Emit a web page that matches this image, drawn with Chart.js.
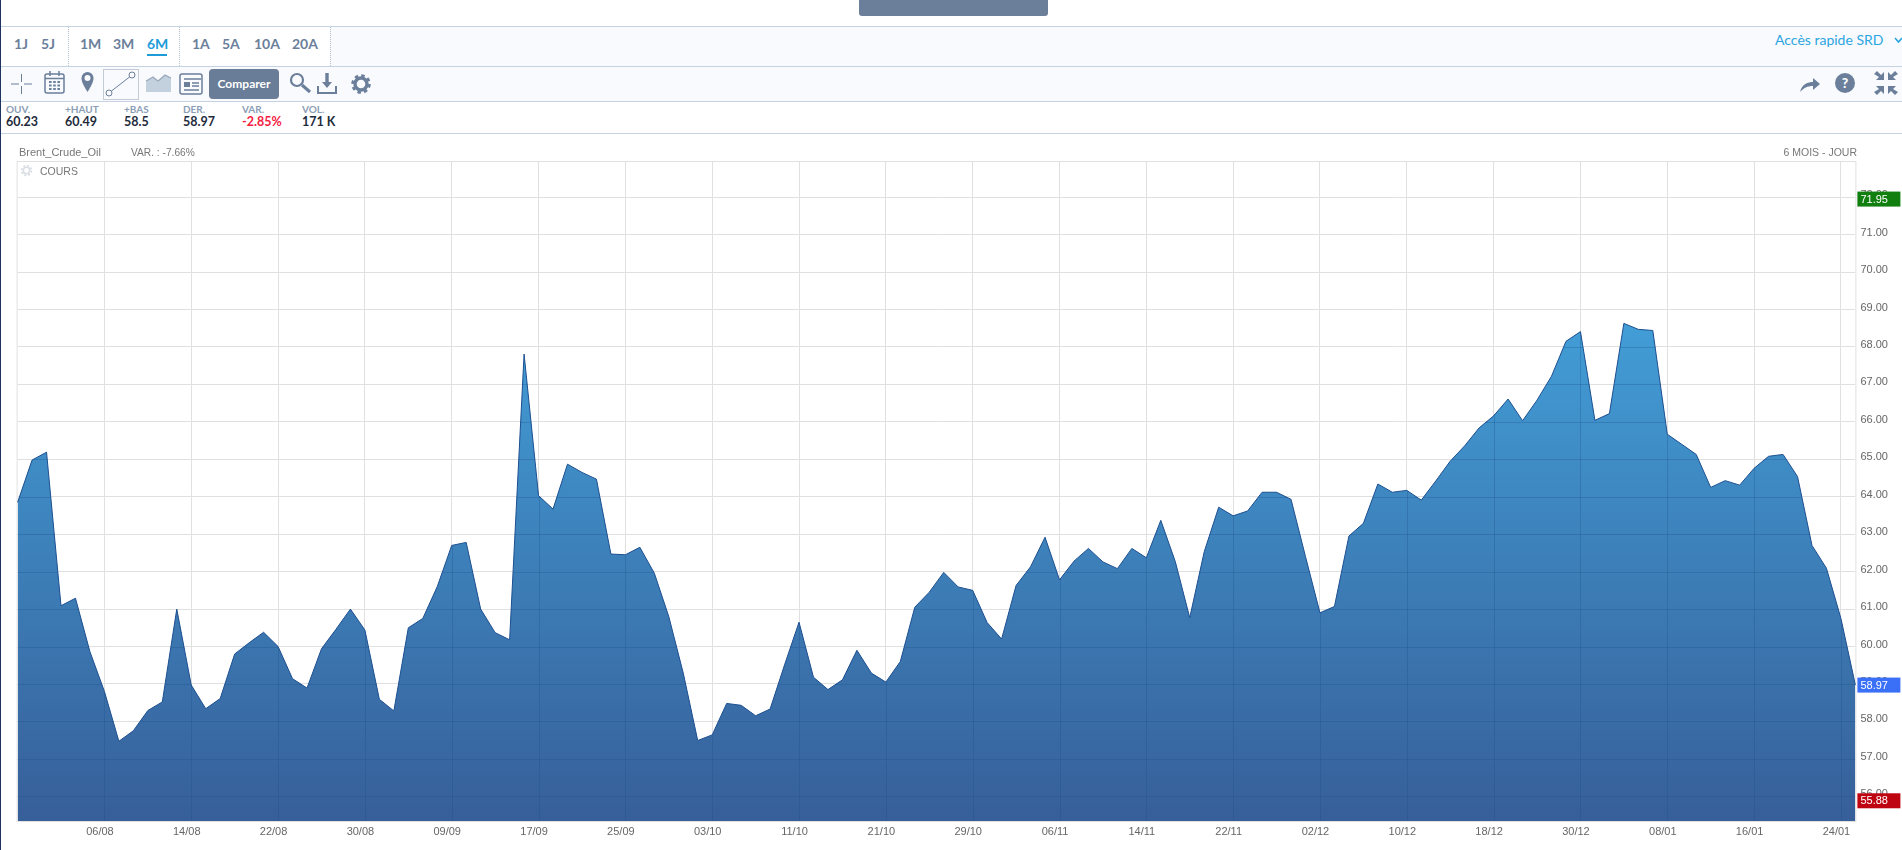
<!DOCTYPE html>
<html lang="fr">
<head>
<meta charset="utf-8">
<title>Brent_Crude_Oil</title>
<script src="https://cdn.jsdelivr.net/npm/chart.js@4/dist/chart.umd.min.js"></script>
<style>
html, body { margin: 0; padding: 0; width: 1902px; height: 850px; overflow: hidden; background: #fff; font-family: Lato, "Open Sans", sans-serif; }
.abs { position: absolute; white-space: nowrap; }
#edge { left: 0; top: 0; width: 1px; height: 850px; background: #1f3560; }
#topBtn { left: 859px; top: 0; width: 189px; height: 16px; background: #6b7f9b; border-radius: 0 0 3px 3px; }
#row1 { left: 1px; top: 26px; width: 1901px; height: 39px; background: #f9fafe; border-top: 1px solid #c6d2df; border-bottom: 1px solid #c6d2df; }
#periods { left: 1px; top: 27px; width: 329px; height: 39px; background: #fff; }
.sep { top: 27px; width: 0; height: 39px; border-left: 1px dotted #b4c0ce; }
.period { top: 35px; font-size: 14px; line-height: 18px; font-weight: 700; color: #6b7f9b; }
.period.on { color: #1d9bd8; }
#underline { left: 147px; top: 54px; width: 20px; height: 2px; background: #1d9bd8; }
#srd { left: 1775px; top: 31px; font-size: 14px; line-height: 18px; color: #2ba5e0; }
#row2 { left: 1px; top: 67px; width: 1901px; height: 34px; background: #f9fafe; border-bottom: 1px solid #c6d2df; }
#compare { left: 209px; top: 69px; width: 70px; height: 30px; line-height: 30px; text-align: center; background: #697d99; border-radius: 4px; color: #fff; font-size: 12px; font-weight: 700; }
#lineBtn { left: 103px; top: 69px; width: 34px; height: 29px; border: 1px solid #c3ccd6; }
svg { position: absolute; }
#row3 { left: 1px; top: 133px; width: 1901px; height: 0; border-top: 1px solid #c6d2df; }
.statLabel { top: 103px; font-size: 10px; line-height: 12px; font-weight: 700; color: #8c9eb5; }
.statValue { top: 115px; font-size: 12.5px; line-height: 14px; font-weight: 700; color: #1e2b3c; }
.info { top: 146px; font-family: "Liberation Sans", sans-serif; font-size: 10.5px; line-height: 13px; color: #777; }
#chartBox { position: absolute; left: 0; top: 134px; width: 1902px; height: 716px; }
</style>
</head>
<body>
<div class="abs" id="edge"></div>
<div class="abs" id="topBtn"></div>

<div class="abs" id="row1"></div>
<div class="abs" id="periods"></div>
<div class="abs sep" style="left:68px"></div>
<div class="abs sep" style="left:179px"></div>
<div class="abs sep" style="left:330px"></div>
<div class="abs period" style="left:14px">1J</div>
<div class="abs period" style="left:41px">5J</div>
<div class="abs period" style="left:80px">1M</div>
<div class="abs period" style="left:113px">3M</div>
<div class="abs period on" style="left:147px">6M</div>
<div class="abs" id="underline"></div>
<div class="abs period" style="left:192px">1A</div>
<div class="abs period" style="left:222px">5A</div>
<div class="abs period" style="left:254px">10A</div>
<div class="abs period" style="left:292px">20A</div>
<div class="abs" id="srd">Accès rapide SRD</div>
<svg style="left:1894px;top:36px" width="8" height="8"><path d="M1 2 L4.5 6 L8 2" fill="none" stroke="#2ba5e0" stroke-width="1.6"/></svg>

<div class="abs" id="row2"></div>
<div class="abs" id="lineBtn"></div>
<div class="abs" id="compare">Comparer</div>
<svg style="left:0;top:67px" width="380" height="34" fill="none" stroke="#6b7f9b">
  <!-- réticule -->
  <path d="M11 17 H19 M24 17 H32 M21.5 7 V15 M21.5 19 V27" stroke-width="1"/>
  <!-- calendrier -->
  <rect x="45" y="7" width="19" height="19" rx="2" stroke-width="1.5"/>
  <path d="M45 11.5 H64 M50 4 V9 M59 4 V9" stroke-width="1.5"/>
  <path d="M49 15 H60 M49 18.5 H60 M49 22 H60" stroke-width="2" stroke-dasharray="2.6 1.6"/>
  <!-- repère -->
  <path d="M87.5 25 C83 18 81.5 14 81.5 11 A6 6 0 0 1 93.5 11 C93.5 14 92 18 87.5 25 Z" fill="#6b7f9b" stroke="none"/>
  <circle cx="87.5" cy="11" r="3" fill="#f9fafe" stroke="none"/>
  <!-- ligne -->
  <circle cx="109" cy="26" r="3" stroke-width="1"/>
  <circle cx="132" cy="8" r="3" stroke-width="1"/>
  <path d="M111.5 24 L129.5 10" stroke-width="1"/>
  <!-- aire -->
  <path d="M146 25 V14 L153 10 L158 14 L165 8 L171 11 V25 Z" fill="#c3d0dd" stroke="none"/>
  <path d="M146 14 L153 10 L158 14 L165 8 L171 11" stroke="#6b7f9b" stroke-width="1.2" opacity=".6"/>
  <!-- actualités -->
  <rect x="180" y="7" width="22" height="20" rx="2" stroke-width="1.5"/>
  <path d="M184 12 H201 M192 16 H199 M192 19 H199 M184 23 H199" stroke-width="1.5"/>
  <rect x="184" y="15" width="6" height="5" fill="#6b7f9b" stroke="none"/>
  <!-- loupe -->
  <circle cx="297" cy="13" r="6" stroke-width="2.2"/>
  <path d="M302 18 L310 25" stroke-width="3"/>
  <!-- téléchargement -->
  <path d="M318 19 V26 H336 V19" stroke-width="2"/>
  <path d="M327 6 V16" stroke-width="3.4"/>
  <path d="M322 15 H332 L327 21 Z" fill="#6b7f9b" stroke="none"/>
  <!-- réglages -->
  <circle cx="361" cy="17" r="6" stroke-width="3.4"/>
  <circle cx="361" cy="17" r="8.5" stroke-width="2.6" stroke-dasharray="3.5 3.17"/>
</svg>
<svg style="left:1780px;top:67px" width="122" height="34" fill="#6b7f9b">
  <path d="M20 25 C22 17 28 15 33 15 V11 L40 17 L33 23 V19 C27 19 24 21 20 25 Z"/>
  <circle cx="65" cy="16" r="10"/>
  <text x="65" y="21" text-anchor="middle" font-family="Lato" font-size="14" font-weight="900" fill="#f9fafe">?</text>
  <path d="M94 7 L97 4 L101 8 L104 5 V13 H96 L99 10 Z"/>
  <path d="M118 7 L115 4 L111 8 L108 5 V13 H116 L113 10 Z"/>
  <path d="M94 25 L97 28 L101 24 L104 27 V19 H96 L99 22 Z"/>
  <path d="M118 25 L115 28 L111 24 L108 27 V19 H116 L113 22 Z"/>
</svg>

<div class="abs statLabel" style="left:6px">OUV.</div><div class="abs statValue" style="left:6px">60.23</div>
<div class="abs statLabel" style="left:65px">+HAUT</div><div class="abs statValue" style="left:65px">60.49</div>
<div class="abs statLabel" style="left:124px">+BAS</div><div class="abs statValue" style="left:124px">58.5</div>
<div class="abs statLabel" style="left:183px">DER.</div><div class="abs statValue" style="left:183px">58.97</div>
<div class="abs statLabel" style="left:242px">VAR.</div><div class="abs statValue" style="left:242px;color:#f5213f">-2.85%</div>
<div class="abs statLabel" style="left:302px">VOL.</div><div class="abs statValue" style="left:302px">171 K</div>
<div class="abs" id="row3"></div>

<div id="chartBox"><canvas id="coursChart" width="1902" height="716"></canvas></div>

<div class="abs info" style="left:19px;font-size:11px">Brent_Crude_Oil</div>
<div class="abs info" style="left:131px;font-size:10.2px">VAR. : -7.66%</div>
<div class="abs info" style="right:45px">6 MOIS - JOUR</div>
<svg style="left:20px;top:164px" width="13" height="13" fill="none" stroke="#d9dee4">
  <circle cx="6.5" cy="6.5" r="3.2" stroke-width="1.6"/>
  <circle cx="6.5" cy="6.5" r="5" stroke-width="1.6" stroke-dasharray="2 1.93"/>
</svg>
<div class="abs info" style="left:40px;top:165px">COURS</div>

<script>
// Dates de cotation (jours ouvrés)
const dates = [
    '29/07', '30/07', '31/07', '01/08', '02/08', '05/08', '06/08', '07/08', '08/08', '09/08', '12/08', '13/08', '14/08',
    '15/08', '16/08', '19/08', '20/08', '21/08', '22/08', '23/08', '26/08', '27/08', '28/08', '29/08', '30/08',
    '02/09', '03/09', '04/09', '05/09', '06/09', '09/09', '10/09', '11/09', '12/09', '13/09', '16/09', '17/09',
    '18/09', '19/09', '20/09', '23/09', '24/09', '25/09', '26/09', '27/09', '30/09', '01/10', '02/10', '03/10',
    '04/10', '07/10', '08/10', '09/10', '10/10', '11/10', '14/10', '15/10', '16/10', '17/10', '18/10', '21/10',
    '22/10', '23/10', '24/10', '25/10', '28/10', '29/10', '30/10', '31/10', '01/11', '04/11', '05/11', '06/11',
    '07/11', '08/11', '11/11', '12/11', '13/11', '14/11', '15/11', '18/11', '19/11', '20/11', '21/11', '22/11',
    '25/11', '26/11', '27/11', '28/11', '29/11', '02/12', '03/12', '04/12', '05/12', '06/12', '09/12', '10/12',
    '11/12', '12/12', '13/12', '16/12', '17/12', '18/12', '19/12', '20/12', '23/12', '24/12', '27/12', '30/12',
    '31/12', '02/01', '03/01', '06/01', '07/01', '08/01', '09/01', '10/01', '13/01', '14/01', '15/01', '16/01',
    '17/01', '20/01', '21/01', '22/01', '23/01', '24/01', '27/01'
];

// Cours de clôture
const cours = [
    63.85, 64.98, 65.19, 61.09, 61.29, 59.86, 58.80, 57.47, 57.75, 58.29, 58.52, 61.00, 58.97,
    58.34, 58.61, 59.80, 60.10, 60.38, 60.00, 59.14, 58.89, 59.94, 60.46, 61.00, 60.44,
    58.59, 58.28, 60.50, 60.75, 61.60, 62.70, 62.78, 61.00, 60.37, 60.18, 67.81, 64.03,
    63.67, 64.87, 64.65, 64.47, 62.47, 62.45, 62.65, 61.96, 60.80, 59.29, 57.49, 57.64,
    58.48, 58.43, 58.15, 58.33, 59.51, 60.65, 59.18, 58.85, 59.11, 59.90, 59.29, 59.05,
    59.60, 61.05, 61.45, 61.98, 61.59, 61.50, 60.64, 60.20, 61.63, 62.13, 62.92, 61.78,
    62.28, 62.62, 62.26, 62.08, 62.62, 62.37, 63.37, 62.27, 60.77, 62.53, 63.72, 63.49,
    63.62, 64.12, 64.12, 63.93, 62.40, 60.90, 61.07, 62.95, 63.29, 64.34, 64.12, 64.17,
    63.91, 64.42, 64.95, 65.36, 65.84, 66.16, 66.61, 66.03, 66.58, 67.22, 68.15, 68.41,
    66.04, 66.22, 68.63, 68.47, 68.44, 65.67, 65.40, 65.13, 64.25, 64.43, 64.31, 64.76,
    65.08, 65.13, 64.54, 62.70, 62.09, 60.75, 58.97
];

// Graduations des axes
const xTickLabels = [
    '06/08', '14/08', '22/08', '30/08', '09/09', '17/09', '25/09', '03/10', '11/10', '21/10', '29/10',
    '06/11', '14/11', '22/11', '02/12', '10/12', '18/12', '30/12', '08/01', '16/01', '24/01'
];
const yTicks = [56, 57, 58, 59, 60, 61, 62, 63, 64, 65, 66, 67, 68, 69, 70, 71, 72];
const yMin = 55.34;
const yMax = 72.94;

// Étiquettes de prix à droite de l'axe
const badgeValues = [71.95, 58.97, 55.88];
const badgeColors = ['#107f10', '#3a6ff7', '#bf0411'];

const gridColor = '#e0e0e0';

// Cadre de la zone de tracé
const framePlugin = {
    id: 'frame',
    beforeDatasetsDraw(chart) {
        const { ctx, chartArea: a } = chart;
        ctx.save();
        ctx.strokeStyle = gridColor;
        ctx.lineWidth = 1;
        ctx.strokeRect(a.left - 0.5, a.top - 0.5, a.right - a.left + 1, a.bottom - a.top + 1);
        ctx.restore();
    }
};

// Grille plus foncée à l'intérieur de l'aire
const areaGridPlugin = {
    id: 'areaGrid',
    afterDatasetsDraw(chart) {
        const { ctx, chartArea: a, scales } = chart;
        const points = chart.getDatasetMeta(0).data;
        ctx.save();
        ctx.beginPath();
        points.forEach((p, i) => i ? ctx.lineTo(p.x, p.y) : ctx.moveTo(p.x, p.y));
        ctx.lineTo(a.right, a.bottom);
        ctx.lineTo(a.left, a.bottom);
        ctx.closePath();
        ctx.clip();
        ctx.strokeStyle = 'rgba(28, 78, 135, 0.3)';
        ctx.lineWidth = 1;
        ctx.beginPath();
        scales.x.ticks.forEach(t => {
            const x = Math.round(scales.x.getPixelForValue(t.value)) + 0.5;
            ctx.moveTo(x, a.top);
            ctx.lineTo(x, a.bottom);
        });
        yTicks.forEach(v => {
            const y = Math.round(scales.y.getPixelForValue(v)) + 0.5;
            ctx.moveTo(a.left, y);
            ctx.lineTo(a.right, y);
        });
        ctx.stroke();
        ctx.restore();
    }
};

// Étiquettes max / dernier / min
const badgePlugin = {
    id: 'badges',
    afterDraw(chart) {
        const { ctx, chartArea: a, scales } = chart;
        ctx.save();
        ctx.font = '11px "Liberation Sans"';
        ctx.textAlign = 'left';
        ctx.textBaseline = 'middle';
        badgeValues.forEach((v, i) => {
            const y = scales.y.getPixelForValue(v);
            ctx.fillStyle = badgeColors[i];
            ctx.fillRect(a.right + 2, y - 7.5, 43, 15);
            ctx.fillStyle = '#fff';
            ctx.fillText(v.toFixed(2), a.right + 5, y + 0.5);
        });
        ctx.restore();
    }
};

function areaGradient(context) {
    const { chart } = context;
    if (!chart.chartArea) return '#3c7fb6';
    const g = chart.ctx.createLinearGradient(0, chart.scales.y.getPixelForValue(68.63), 0, chart.chartArea.bottom);
    g.addColorStop(0, '#429dd6');
    g.addColorStop(1, '#375f99');
    return g;
}

new Chart(document.getElementById('coursChart'), {
    type: 'line',
    data: {
        labels: dates,
        datasets: [{
            label: 'COURS',
            data: cours,
            borderColor: '#1c4f90',
            borderWidth: 1,
            backgroundColor: areaGradient,
            fill: 'start',
            tension: 0,
            pointRadius: 0
        }]
    },
    options: {
        responsive: false,
        animation: false,
        layout: { padding: { left: 17.6, top: 28, right: 0, bottom: 0 } },
        plugins: { legend: { display: false }, tooltip: { enabled: false } },
        scales: {
            x: {
                type: 'category',
                border: { display: false },
                grid: { color: gridColor, drawTicks: false },
                afterBuildTicks(scale) {
                    scale.ticks = xTickLabels.map(d => ({ value: dates.indexOf(d) }));
                },
                afterFit(scale) { scale.height = 29; },
                ticks: {
                    autoSkip: false,
                    maxRotation: 0,
                    padding: 4,
                    labelOffset: -4.5,
                    color: '#666',
                    font: { family: '"Liberation Sans"', size: 11 },
                    callback(value) { return dates[value]; }
                }
            },
            y: {
                position: 'right',
                min: yMin,
                max: yMax,
                border: { display: false },
                grid: { color: gridColor, drawTicks: false },
                afterBuildTicks(scale) {
                    scale.ticks = yTicks.map(v => ({ value: v }));
                },
                afterFit(scale) { scale.width = 46.6; },
                ticks: {
                    autoSkip: false,
                    padding: 5,
                    labelOffset: -2,
                    color: '#666',
                    font: { family: '"Liberation Sans"', size: 11 },
                    callback(value) { return value.toFixed(2); }
                }
            }
        }
    },
    plugins: [framePlugin, areaGridPlugin, badgePlugin]
});
</script>
</body>
</html>
